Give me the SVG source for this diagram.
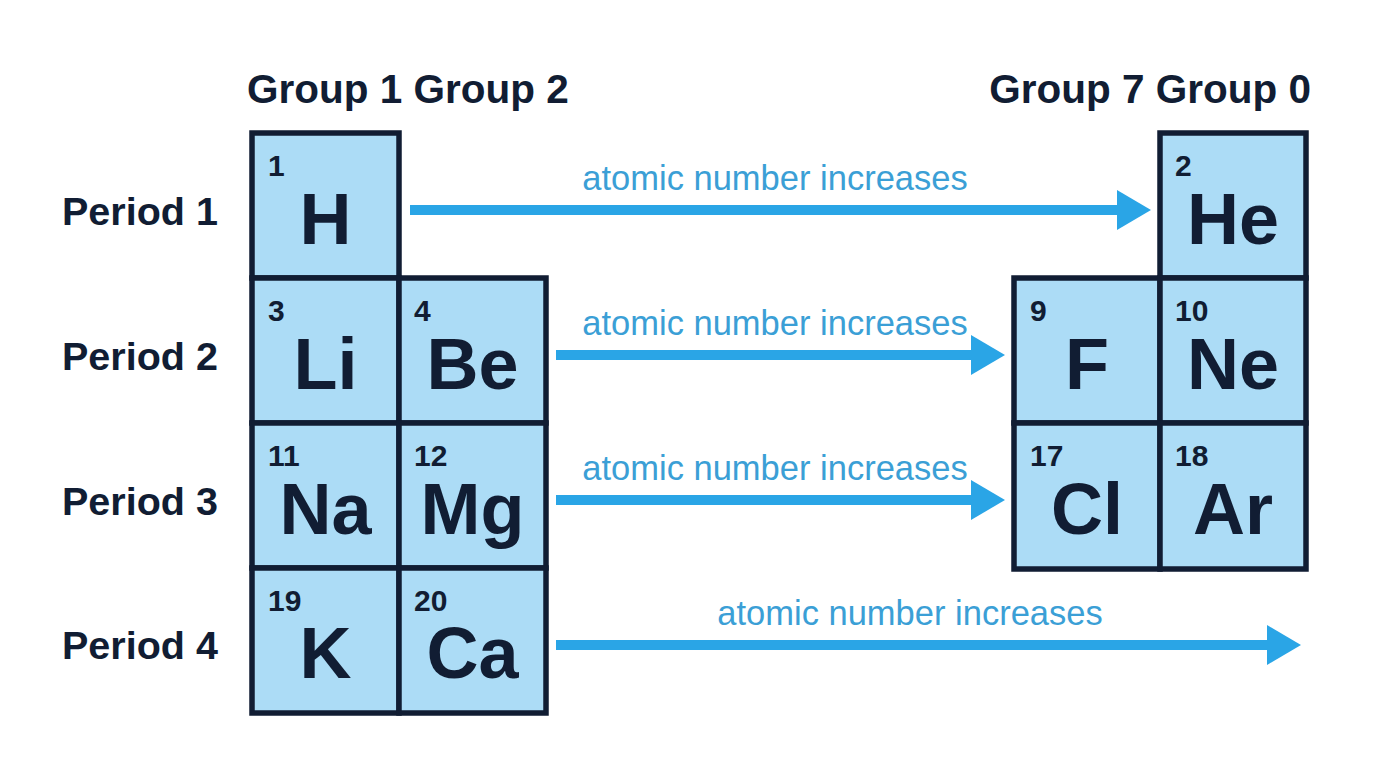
<svg xmlns="http://www.w3.org/2000/svg" width="1376" height="768" viewBox="0 0 1376 768">
<defs>
<style>
.cell{fill:#acdcf6;stroke:#111d33;stroke-width:5.5}
.num{font-family:"Liberation Sans",Arial,sans-serif;font-weight:bold;font-size:30px;fill:#111d33}
.sym{font-family:"Liberation Sans",Arial,sans-serif;font-weight:bold;font-size:72px;fill:#111d33;text-anchor:middle}
.hdr{font-family:"Liberation Sans",Arial,sans-serif;font-weight:bold;font-size:40.5px;fill:#111d33}
.per{font-family:"Liberation Sans",Arial,sans-serif;font-weight:bold;font-size:39.5px;fill:#111d33}
.lbl{font-family:"Liberation Sans",Arial,sans-serif;font-size:34.5px;fill:#3b9fd6;text-anchor:middle}
.arr{stroke:#2aa5e6;stroke-width:10;fill:none}
</style>
<marker id="head" markerUnits="userSpaceOnUse" markerWidth="34" markerHeight="40" viewBox="0 0 34 40" refX="0" refY="20" orient="auto">
<path d="M0,0 L34,20 L0,40 Z" fill="#2aa5e6"/>
</marker>
</defs>
<rect width="1376" height="768" fill="#ffffff"/>

<g id="headers">
<text class="hdr" x="247" y="103">Group 1 Group 2</text>
<text class="hdr" x="1311" y="103" text-anchor="end">Group 7 Group 0</text>
</g>
<g id="periods">
<text class="per" x="62" y="225">Period 1</text>
<text class="per" x="62" y="370">Period 2</text>
<text class="per" x="62" y="515">Period 3</text>
<text class="per" x="62" y="659">Period 4</text>
</g>

<g id="el-H"><rect class="cell" x="252" y="133" width="147" height="145"/><text class="num" x="268" y="176">1</text><text class="sym" x="325.5" y="244">H</text></g>
<g id="el-Li"><rect class="cell" x="252" y="278" width="147" height="145"/><text class="num" x="268" y="321">3</text><text class="sym" x="325.5" y="389">Li</text></g>
<g id="el-Be"><rect class="cell" x="399" y="278" width="147" height="145"/><text class="num" x="414" y="321">4</text><text class="sym" x="472.5" y="389">Be</text></g>
<g id="el-Na"><rect class="cell" x="252" y="423" width="147" height="145"/><text class="num" x="268" y="466">11</text><text class="sym" x="325.5" y="534">Na</text></g>
<g id="el-Mg"><rect class="cell" x="399" y="423" width="147" height="145"/><text class="num" x="414" y="466">12</text><text class="sym" x="472.5" y="534">Mg</text></g>
<g id="el-K"><rect class="cell" x="252" y="568" width="147" height="145"/><text class="num" x="268" y="611">19</text><text class="sym" x="325.5" y="678">K</text></g>
<g id="el-Ca"><rect class="cell" x="399" y="568" width="147" height="145"/><text class="num" x="414" y="611">20</text><text class="sym" x="472.5" y="678">Ca</text></g>

<g id="el-He"><rect class="cell" x="1160" y="133" width="146" height="145"/><text class="num" x="1175" y="176">2</text><text class="sym" x="1233" y="244">He</text></g>
<g id="el-F"><rect class="cell" x="1014" y="278" width="146" height="145"/><text class="num" x="1030" y="321">9</text><text class="sym" x="1087" y="389">F</text></g>
<g id="el-Ne"><rect class="cell" x="1160" y="278" width="146" height="145"/><text class="num" x="1175" y="321">10</text><text class="sym" x="1233" y="389">Ne</text></g>
<g id="el-Cl"><rect class="cell" x="1014" y="423" width="146" height="146"/><text class="num" x="1030" y="466">17</text><text class="sym" x="1087" y="534">Cl</text></g>
<g id="el-Ar"><rect class="cell" x="1160" y="423" width="146" height="146"/><text class="num" x="1175" y="466">18</text><text class="sym" x="1233" y="534">Ar</text></g>

<g id="connectors">
<line class="arr" x1="410" y1="210" x2="1117" y2="210" marker-end="url(#head)"/>
<text class="lbl" x="775" y="190">atomic number increases</text>
<line class="arr" x1="556" y1="355" x2="971" y2="355" marker-end="url(#head)"/>
<text class="lbl" x="775" y="335">atomic number increases</text>
<line class="arr" x1="556" y1="500" x2="971" y2="500" marker-end="url(#head)"/>
<text class="lbl" x="775" y="480">atomic number increases</text>
<line class="arr" x1="556" y1="645" x2="1267" y2="645" marker-end="url(#head)"/>
<text class="lbl" x="910" y="625">atomic number increases</text>
</g>
</svg>
